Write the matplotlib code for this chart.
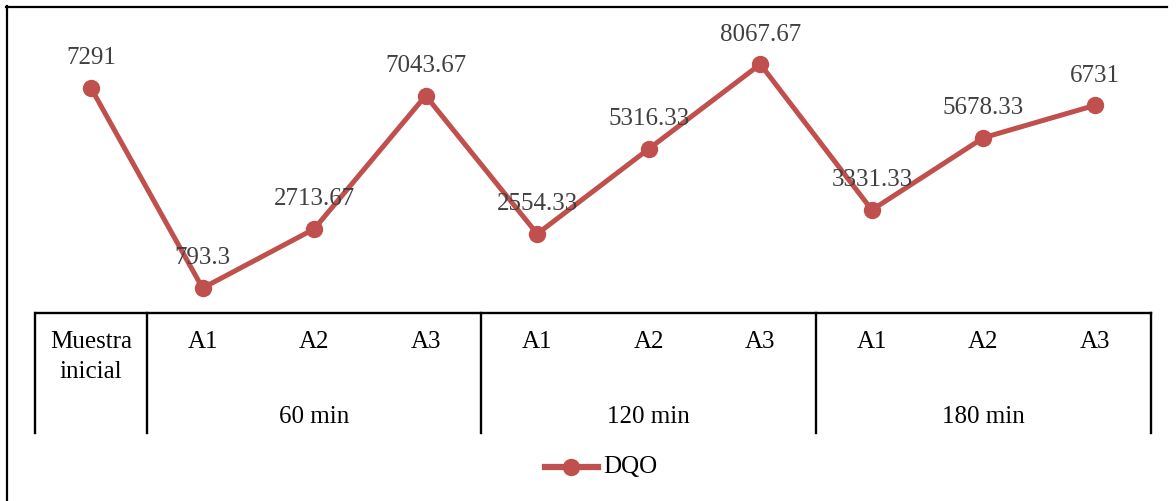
import matplotlib
matplotlib.use("Agg")
import matplotlib.pyplot as plt
from matplotlib.lines import Line2D
from matplotlib.transforms import blended_transform_factory

# Data
categories = ["Muestra\ninicial", "A1", "A2", "A3", "A1", "A2", "A3", "A1", "A2", "A3"]
groups = ["60 min", "120 min", "180 min"]
group_spans = [(1, 3), (4, 6), (7, 9)]
dqo = [7291, 793.3, 2713.67, 7043.67, 2554.33, 5316.33, 8067.67, 3331.33, 5678.33, 6731]
dqo_labels = ["7291", "793.3", "2713.67", "7043.67", "2554.33", "5316.33",
              "8067.67", "3331.33", "5678.33", "6731"]

W, H, DPI = 1176, 501, 100
plt.rcParams["font.family"] = ["Liberation Serif", "DejaVu Serif"]
FS = 18
RED = "#C0504D"

fig = plt.figure(figsize=(W / DPI, H / DPI), dpi=DPI)


def fx(px):
    return px / W


def fy(py):
    return 1 - py / H


ax_left, ax_right, ax_bottom, ax_top = 35.25, 1150.75, 312.5, 35.5
ax = fig.add_axes([fx(ax_left), fy(ax_bottom), fx(ax_right - ax_left), (ax_bottom - ax_top) / H])
ax.set_xlim(-0.5, len(dqo) - 0.5)
ax.set_ylim(0, 9000)
for s in ["top", "right", "left", "bottom"]:
    ax.spines[s].set_visible(False)
ax.set_xticks([])
ax.set_yticks([])
ax.patch.set_alpha(0)

x = list(range(len(dqo)))
ax.plot(x, dqo, color=RED, lw=3.6, marker="o", markersize=11.5,
        markerfacecolor=RED, markeredgecolor=RED, clip_on=False, zorder=3,
        solid_joinstyle="round")
for xi, v, lab in zip(x, dqo, dqo_labels):
    ax.annotate(lab, (xi, v), xytext=(0, 17), textcoords="offset points",
                ha="center", va="baseline", fontsize=FS, color="#404040", zorder=4)

# Category table below the plot
tr = blended_transform_factory(ax.transData, fig.transFigure)
lw_tab = 1.7
fig.add_artist(Line2D([fx(35.5), fx(1150.5)], [fy(313), fy(313)], color="black", lw=lw_tab))
for bx in [-0.5, 0.5, 3.5, 6.5, 9.5]:
    ax.add_line(Line2D([bx, bx], [fy(313), fy(433)], transform=tr, color="black",
                       lw=lw_tab, clip_on=False))

for i, c in enumerate(categories):
    lines = c.split("\n")
    for k, part in enumerate(lines):
        ax.text(i, fy(342 + 30 * k), part, transform=tr, ha="center", va="center",
                fontsize=FS, color="black")
for g, (a, b) in zip(groups, group_spans):
    ax.text((a + b) / 2, fy(417), g, transform=tr, ha="center", va="center",
            fontsize=FS, color="black")

# Legend
fig.add_artist(Line2D([fx(545), fx(598)], [fy(467), fy(467)], color=RED, lw=4.5))
fig.add_artist(Line2D([fx(571)], [fy(467)], color=RED, marker="o", markersize=11.5,
                      linestyle="none"))
fig.text(fx(603), fy(467), "DQO", ha="left", va="center", fontsize=FS, color="black")

# Outer frame
fig.add_artist(Line2D([fx(7), fx(7)], [fy(6), fy(501)], color="black", lw=1.6))
fig.add_artist(Line2D([fx(6), fx(1167)], [fy(7), fy(7)], color="black", lw=1.6))

fig.savefig("out.png", dpi=DPI)
